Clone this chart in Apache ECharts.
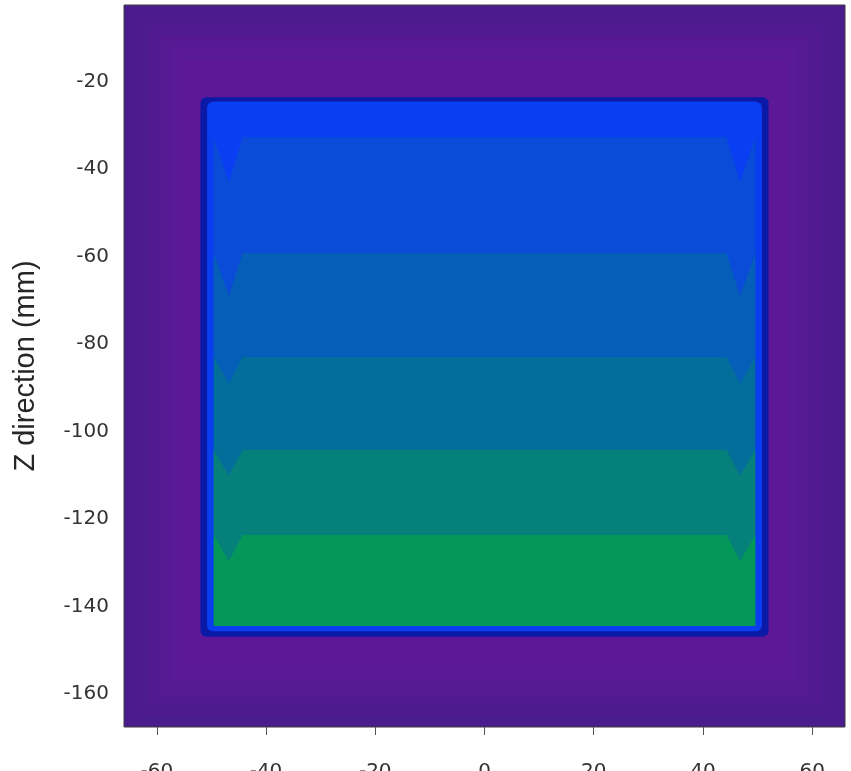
<!DOCTYPE html>
<html>
<head>
<meta charset="utf-8">
<script src="https://cdn.jsdelivr.net/npm/echarts@6/dist/echarts.min.js"></script>
<style>
  html, body { margin: 0; padding: 0; background: #ffffff; }
  #chart { width: 851px; height: 771px; }
</style>
</head>
<body>
<div id="chart"></div>
<script>
// Axis extents (mm) and tick values
const xRange = [-66, 66];
const zRange = [-167.5, -2.5];
const xTicks = [-60, -40, -20, 0, 20, 40, 60];
const zTicks = [-160, -140, -120, -100, -80, -60, -40, -20];

// Nested contour shells around the block: half width in X, top Z, bottom Z
const shellHalfWidth = [63.5, 61.5, 59.5, 57.5, 55.5, 52, 50.8];
const shellTop = [-4.5, -7, -9.5, -12, -15, -23.6, -24.6];
const shellBottom = [-165, -162.5, -160, -157, -153, -146.9, -145.6];

// Horizontal contour bands inside the block
const bandHalfWidth = 49.6;
const bandTop = [-24.6, -32.7, -59.2, -82.9, -104.2, -123.6];
const bandBottom = [-32.7, -59.2, -82.9, -104.2, -123.6, -144.4];

// Interpolation notches near the block's side walls: band edge Z, tip Z
const notchEdge = [-32.7, -59.2, -82.9, -104.2, -123.6];
const notchTip = [-43, -69, -89, -110, -129.5];
const notchInnerX = 44.3;
const notchTipX = 46.8;

// Fill colours
const backgroundColor = '#4a1b8c';
const shellColors = ['#4e1b8f', '#521a91', '#561994', '#5a1996', '#5d1897', '#0b1aa6', '#0a3cf0'];
const bandColors = ['#0a3ef2', '#0a4bd7', '#055fb9', '#046e9b', '#05807a', '#04975a'];

// Rectangle records: [x0, x1, zTop, zBottom, colour index, corner radius px]
const navyIndex = shellHalfWidth.length - 2;
const shellData = shellHalfWidth.map((w, i) => [-w, w, shellTop[i], shellBottom[i], i, i >= navyIndex ? 6 : 0]);
const bandData = bandTop.map((t, i) => [-bandHalfWidth, bandHalfWidth, t, bandBottom[i], i, 0]);

// Notch polygons on both walls, coloured with the band above
const notchData = [];
notchEdge.forEach((z, i) => {
  notchData.push([-bandHalfWidth, z, -notchInnerX, z, -notchTipX, notchTip[i], i]);
  notchData.push([bandHalfWidth, z, notchInnerX, z, notchTipX, notchTip[i], i]);
});

function rectRenderer(colors) {
  return function (params, api) {
    const p0 = api.coord([api.value(0), api.value(2)]);
    const p1 = api.coord([api.value(1), api.value(3)]);
    return {
      type: 'rect',
      shape: {
        x: p0[0], y: p0[1],
        width: p1[0] - p0[0], height: p1[1] - p0[1],
        r: api.value(5)
      },
      style: { fill: colors[api.value(4)] }
    };
  };
}

function notchRenderer(params, api) {
  const pts = [
    api.coord([api.value(0), api.value(1)]),
    api.coord([api.value(2), api.value(3)]),
    api.coord([api.value(4), api.value(5)])
  ];
  return {
    type: 'polygon',
    shape: { points: pts },
    style: { fill: bandColors[api.value(6)] }
  };
}

const labelFont = {
  fontFamily: 'DejaVu Sans',
  fontSize: 20,
  color: '#333333'
};

const chart = echarts.init(document.getElementById('chart'), null, { renderer: 'canvas' });
chart.setOption({
  animation: false,
  backgroundColor: '#ffffff',
  grid: {
    left: 124, right: 6, top: 5, bottom: 44,
    containLabel: false,
    outerBoundsMode: 'none',
    show: true,
    backgroundColor: backgroundColor,
    borderColor: '#3c3c3c',
    borderWidth: 1
  },
  xAxis: {
    type: 'value',
    min: xRange[0], max: xRange[1],
    axisLine: { show: false },
    splitLine: { show: false },
    axisTick: { show: true, customValues: xTicks, length: 8, lineStyle: { color: '#555555' } },
    axisLabel: Object.assign({ customValues: xTicks, margin: 35 }, labelFont)
  },
  yAxis: {
    type: 'value',
    min: zRange[0], max: zRange[1],
    name: 'Z direction (mm)',
    nameLocation: 'middle',
    nameGap: 84,
    nameTextStyle: { fontFamily: 'Liberation Sans', fontSize: 29, color: '#262626' },
    axisLine: { show: false },
    splitLine: { show: false },
    axisTick: { show: true, customValues: zTicks, length: 6, lineStyle: { color: '#555555' } },
    axisLabel: Object.assign({ customValues: zTicks, margin: 15 }, labelFont)
  },
  series: [
    {
      type: 'custom',
      renderItem: rectRenderer(shellColors),
      data: shellData,
      silent: true
    },
    {
      type: 'custom',
      renderItem: rectRenderer(bandColors),
      data: bandData,
      silent: true
    },
    {
      type: 'custom',
      renderItem: notchRenderer,
      data: notchData,
      silent: true
    }
  ]
});
</script>
</body>
</html>
